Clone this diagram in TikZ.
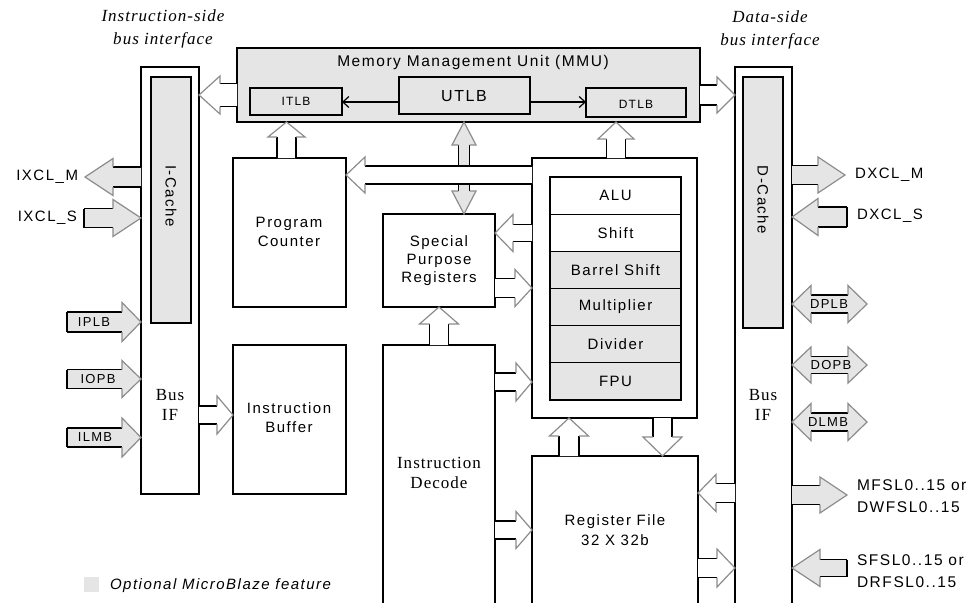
\documentclass[tikz,border=0pt]{standalone}
\usepackage{fontspec}
\newfontfamily\lsans{Liberation Sans}[LetterSpace=10]
\newfontfamily\lserif{Liberation Serif}[LetterSpace=6]
\usetikzlibrary{calc,arrows.meta}
\newdimen\BAdx \newdimen\BAdy
\newcommand\BAget[3]{%
  \pgfextractx{\BAdx}{\pgfpointanchor{#1}{center}}%
  \pgfextracty{\BAdy}{\pgfpointanchor{#1}{center}}%
  \pgfmathsetmacro#2{\the\BAdx}\pgfmathsetmacro#3{\the\BAdy}}
% horizontal block arrow: [fill]{tail}{tip}{shaft half}{head half}{head length}{closed tail 1/0}
\newcommand\harr[7][white]{%
  \coordinate (BAt) at #2;\coordinate (BAh) at #3;%
  \BAget{BAt}{\BAtx}{\BAty}\BAget{BAh}{\BAhx}{\BAhy}%
  \pgfmathsetmacro\BAs{ifthenelse(\BAhx>\BAtx,1,-1)}%
  \pgfmathsetmacro\BAb{\BAhx-(\BAs)*(#6)}%
  \pgfmathsetmacro\BAu{\BAty+#4}\pgfmathsetmacro\BAd{\BAty-#4}%
  \pgfmathsetmacro\BAU{\BAty+#5}\pgfmathsetmacro\BAD{\BAty-#5}%
  \fill[#1] (\BAtx pt,\BAu pt) -- (\BAb pt,\BAu pt) -- (\BAb pt,\BAU pt) -- (\BAhx pt,\BAty pt) -- (\BAb pt,\BAD pt) -- (\BAb pt,\BAd pt) -- (\BAtx pt,\BAd pt) -- cycle;%
  \draw[bashaft] (\BAtx pt,\BAu pt) -- (\BAb pt,\BAu pt) (\BAtx pt,\BAd pt) -- (\BAb pt,\BAd pt);%
  \draw[bahead] (\BAb pt,\BAu pt) -- (\BAb pt,\BAU pt) -- (\BAhx pt,\BAty pt) -- (\BAb pt,\BAD pt) -- (\BAb pt,\BAd pt);%
  \ifnum#7=1 \draw[bashaft] (\BAtx pt,\BAu pt) -- (\BAtx pt,\BAd pt);\fi}
% vertical block arrow
\newcommand\varr[7][white]{%
  \coordinate (BAt) at #2;\coordinate (BAh) at #3;%
  \BAget{BAt}{\BAtx}{\BAty}\BAget{BAh}{\BAhx}{\BAhy}%
  \pgfmathsetmacro\BAs{ifthenelse(\BAhy>\BAty,1,-1)}%
  \pgfmathsetmacro\BAb{\BAhy-(\BAs)*(#6)}%
  \pgfmathsetmacro\BAu{\BAtx+#4}\pgfmathsetmacro\BAd{\BAtx-#4}%
  \pgfmathsetmacro\BAU{\BAtx+#5}\pgfmathsetmacro\BAD{\BAtx-#5}%
  \fill[#1] (\BAu pt,\BAty pt) -- (\BAu pt,\BAb pt) -- (\BAU pt,\BAb pt) -- (\BAtx pt,\BAhy pt) -- (\BAD pt,\BAb pt) -- (\BAd pt,\BAb pt) -- (\BAd pt,\BAty pt) -- cycle;%
  \draw[bashaft] (\BAu pt,\BAty pt) -- (\BAu pt,\BAb pt) (\BAd pt,\BAty pt) -- (\BAd pt,\BAb pt);%
  \draw[bahead] (\BAu pt,\BAb pt) -- (\BAU pt,\BAb pt) -- (\BAtx pt,\BAhy pt) -- (\BAD pt,\BAb pt) -- (\BAd pt,\BAb pt);%
  \ifnum#7=1 \draw[bashaft] (\BAu pt,\BAty pt) -- (\BAd pt,\BAty pt);\fi}
% double horizontal: [fill]{left tip}{right tip}{hw}{hh}{hl}
\newcommand\hdarr[6][white]{%
  \coordinate (BAt) at #2;\coordinate (BAh) at #3;%
  \BAget{BAt}{\BAtx}{\BAty}\BAget{BAh}{\BAhx}{\BAhy}%
  \pgfmathsetmacro\BAa{\BAtx+#6}\pgfmathsetmacro\BAb{\BAhx-#6}%
  \pgfmathsetmacro\BAu{\BAty+#4}\pgfmathsetmacro\BAd{\BAty-#4}%
  \pgfmathsetmacro\BAU{\BAty+#5}\pgfmathsetmacro\BAD{\BAty-#5}%
  \fill[#1] (\BAtx pt,\BAty pt) -- (\BAa pt,\BAU pt) -- (\BAa pt,\BAu pt) -- (\BAb pt,\BAu pt) -- (\BAb pt,\BAU pt) -- (\BAhx pt,\BAty pt) -- (\BAb pt,\BAD pt) -- (\BAb pt,\BAd pt) -- (\BAa pt,\BAd pt) -- (\BAa pt,\BAD pt) -- cycle;%
  \draw[bashaft] (\BAa pt,\BAu pt) -- (\BAb pt,\BAu pt) (\BAa pt,\BAd pt) -- (\BAb pt,\BAd pt);%
  \draw[bahead] (\BAa pt,\BAu pt) -- (\BAa pt,\BAU pt) -- (\BAtx pt,\BAty pt) -- (\BAa pt,\BAD pt) -- (\BAa pt,\BAd pt);%
  \draw[bahead] (\BAb pt,\BAu pt) -- (\BAb pt,\BAU pt) -- (\BAhx pt,\BAty pt) -- (\BAb pt,\BAD pt) -- (\BAb pt,\BAd pt);}
% double vertical: [fill]{top tip}{bottom tip}{hw}{hh}{hl}
\newcommand\vdarr[6][white]{%
  \coordinate (BAt) at #2;\coordinate (BAh) at #3;%
  \BAget{BAt}{\BAtx}{\BAty}\BAget{BAh}{\BAhx}{\BAhy}%
  \pgfmathsetmacro\BAa{\BAty-#6}\pgfmathsetmacro\BAb{\BAhy+#6}%
  \pgfmathsetmacro\BAu{\BAtx+#4}\pgfmathsetmacro\BAd{\BAtx-#4}%
  \pgfmathsetmacro\BAU{\BAtx+#5}\pgfmathsetmacro\BAD{\BAtx-#5}%
  \fill[#1] (\BAtx pt,\BAty pt) -- (\BAU pt,\BAa pt) -- (\BAu pt,\BAa pt) -- (\BAu pt,\BAb pt) -- (\BAU pt,\BAb pt) -- (\BAtx pt,\BAhy pt) -- (\BAD pt,\BAb pt) -- (\BAd pt,\BAb pt) -- (\BAd pt,\BAa pt) -- (\BAD pt,\BAa pt) -- cycle;%
  \draw[bashaft] (\BAu pt,\BAa pt) -- (\BAu pt,\BAb pt) (\BAd pt,\BAa pt) -- (\BAd pt,\BAb pt);%
  \draw[bahead] (\BAu pt,\BAa pt) -- (\BAU pt,\BAa pt) -- (\BAtx pt,\BAty pt) -- (\BAD pt,\BAa pt) -- (\BAd pt,\BAa pt);%
  \draw[bahead] (\BAu pt,\BAb pt) -- (\BAU pt,\BAb pt) -- (\BAtx pt,\BAhy pt) -- (\BAD pt,\BAb pt) -- (\BAd pt,\BAb pt);}

\begin{document}
\begin{tikzpicture}[x=1pt,y=-1pt,
  every node/.style={inner sep=0pt, outer sep=0pt},
  box/.style={draw=black, line width=1.3pt, anchor=north west},
  openbox/.style={draw=none, anchor=north west},
  opt/.style={fill=black!10},
  bashaft/.style={draw=black, line width=1.3pt},
  bahead/.style={draw=black!45, line width=1.2pt},
  sf/.style={font=\lsans\fontsize{15}{19}\selectfont, align=center},
  sm/.style={font=\lsans\fontsize{13}{15}\selectfont},
  sr/.style={font=\lserif\fontsize{17}{20}\selectfont, align=center},
  ttl/.style={font=\lserif\itshape\fontsize{17}{23}\selectfont, align=center}]
\useasboundingbox (0,0) rectangle (979,603);

% titles
\node[ttl] (ititle) at (163,29) {Instruction-side\\bus interface};
\node[ttl] (dtitle) at (770,30) {Data-side\\bus interface};

% MMU
\node[box, opt, minimum width=463, minimum height=74] (mmu) at (237,48) {};
\node[sf, font=\lsans\fontsize{15.5}{19}\selectfont] (mmut) at (473,62) {Memory Management Unit (MMU)};
\node[box, opt, minimum width=92, minimum height=27] (itlb) at (250,88) {};
\node[sm, font=\lsans\fontsize{12}{14}\selectfont] at (itlb.center) {ITLB};
\node[box, opt, minimum width=131, minimum height=37] (utlb) at (399,77) {};
\node[sf, font=\lsans\fontsize{16}{19}\selectfont] at (464,96) {UTLB};
\node[box, opt, minimum width=100, minimum height=29] (dtlb) at (586,88) {};
\node[sm, font=\lsans\fontsize{12}{14}\selectfont] at (636,104) {DTLB};
\draw[line width=1.2pt, -{Straight Barb[length=6pt,width=11pt]}] (utlb.west |- 0,102) -- (itlb.east |- 0,102);
\draw[line width=1.2pt, -{Straight Barb[length=6pt,width=11pt]}] (utlb.east |- 0,102) -- (dtlb.west |- 0,102);

% bus interfaces
\node[box, minimum width=58, minimum height=427] (busL) at (141,67) {};
\node[box, opt, minimum width=40, minimum height=246] (icache) at (151,77) {};
\node[sf, rotate=-90] at (171,196) {I-Cache};
\node[sr] at (170,405) {Bus\\IF};

\node[openbox, minimum width=57, minimum height=536] (busR) at (735,67) {};
\draw[line width=1.3pt] (busR.south west) -- (busR.north west) -- (busR.north east) -- (busR.south east);
\node[box, opt, minimum width=40, minimum height=251] (dcache) at (743,77) {};
\node[sf, rotate=-90] at (763,200) {D-Cache};
\node[sr] at (763,405) {Bus\\IF};

% core blocks
\node[box, minimum width=113, minimum height=149] (pc) at (233,158) {};
\node[sf] at (289,232) {Program\\Counter};
\node[box, minimum width=113, minimum height=149] (ib) at (233,345) {};
\node[sf] at (289,418) {Instruction\\Buffer};
\node[box, minimum width=112, minimum height=93] (spr) at (383,214) {};
\node[sf, font=\lsans\fontsize{15}{18}\selectfont] at (439,261) {Special\\Purpose\\Registers};
\node[openbox, minimum width=112, minimum height=258] (id) at (383,345) {};
\draw[line width=1.3pt] (id.south west) -- (id.north west) -- (id.north east) -- (id.south east);
\node[sr] at (439,473) {Instruction\\Decode};

\node[box, minimum width=165, minimum height=260] (exu) at (532,158) {};
\node[box, minimum width=131, minimum height=37.17] (r1) at (550,177) {};
\node[box, minimum width=131, minimum height=37.17] (r2) at (550,214.17) {};
\node[box, opt, minimum width=131, minimum height=37.17] (r3) at (550,251.33) {};
\node[box, opt, minimum width=131, minimum height=37.17] (r4) at (550,288.5) {};
\node[box, opt, minimum width=131, minimum height=37.17] (r5) at (550,325.67) {};
\node[box, opt, minimum width=131, minimum height=37.17] (r6) at (550,362.83) {};
\node[sf] at (r1.center) {ALU};
\node[sf] at (r2.center) {Shift};
\node[sf] at (r3.center) {Barrel Shift};
\node[sf] at (r4.center) {Multiplier};
\node[sf] at (r5.center) {Divider};
\node[sf] at (r6.center) {FPU};

\node[openbox, minimum width=166, minimum height=147] (rf) at (532,456) {};
\draw[line width=1.3pt] (rf.south west) -- (rf.north west) -- (rf.north east) -- (rf.south east);
\node[sf, font=\lsans\fontsize{15}{20}\selectfont] at (615,530) {Register File\\32 X 32b};

% internal block arrows
\harr{(mmu.west |- 0,95)}{(busL.east |- 0,95)}{11.5}{19}{21}{0}
\harr{(mmu.east |- 0,95)}{(busR.west |- 0,95)}{10}{18}{18}{0}
\harr{(busL.east |- 0,415)}{(ib.west |- 0,415)}{9}{19}{16}{0}
\varr{(pc.north -| 286.5,0)}{(mmu.south -| 286.5,0)}{9.5}{18.5}{15}{0}
\varr{(exu.north -| 616,0)}{(mmu.south -| 616,0)}{9.5}{18}{17}{0}
\vdarr[black!10]{(mmu.south -| 464,0)}{(spr.north -| 464,0)}{5.5}{12}{23}
\harr{(exu.west |- 0,175)}{(pc.east |- 0,175)}{9}{18}{19}{0}
\harr{(exu.west |- 0,233)}{(spr.east |- 0,233)}{8.5}{18.5}{18}{0}
\harr{(spr.east |- 0,288)}{(exu.west |- 0,288)}{9.5}{18.5}{17}{0}
\varr{(id.north -| 439,0)}{(spr.south -| 439,0)}{9.5}{19.5}{17}{0}
\harr{(id.east |- 0,382)}{(exu.west |- 0,382)}{9}{19}{16}{0}
\harr{(id.east |- 0,530)}{(rf.west |- 0,530)}{9}{18.5}{16}{0}
\varr{(rf.north -| 569,0)}{(exu.south -| 569,0)}{10}{19.5}{18}{0}
\varr{(exu.south -| 662.5,0)}{(rf.north -| 662.5,0)}{9.5}{19.5}{19}{0}
\harr{(busR.west |- 0,493)}{(rf.east |- 0,493)}{9.5}{18.5}{18}{0}
\harr{(rf.east |- 0,568)}{(busR.west |- 0,568)}{9.5}{19}{18}{0}

% external interfaces, instruction side
\coordinate (ixm) at (85,177);
\coordinate (ixs) at (84,218);
\coordinate (iplb) at (67,322);
\coordinate (iopb) at (67,379);
\coordinate (ilmb) at (67,437.5);
\harr[black!10]{(busL.west |- ixm)}{(ixm)}{10}{18.5}{28}{0}
\harr[black!10]{(ixs)}{(busL.west |- ixs)}{9.5}{18.5}{28}{1}
\harr[black!10]{(iplb)}{(busL.west |- iplb)}{10}{19.5}{19}{1}
\harr[black!10]{(iopb)}{(busL.west |- iopb)}{9.5}{18.5}{19}{1}
\harr[black!10]{(ilmb)}{(busL.west |- ilmb)}{9.5}{19.5}{19}{1}
\node[sf, anchor=east] at (78,177) {IXCL\_M};
\node[sf, anchor=east] at (77,218) {IXCL\_S};
\node[sm] at (94,322) {IPLB};
\node[sm] at (98,379) {IOPB};
\node[sm] at (95,437.5) {ILMB};

% external interfaces, data side
\coordinate (dxm) at (845,175);
\coordinate (dxs) at (847,217);
\coordinate (dplb) at (867,304);
\coordinate (dopb) at (867,365);
\coordinate (dlmb) at (867,422);
\coordinate (mfsl) at (847,495);
\coordinate (sfsl) at (847,568);
\harr[black!10]{(busR.east |- dxm)}{(dxm)}{9.5}{18}{27}{0}
\harr[black!10]{(dxs)}{(busR.east |- dxs)}{10}{18.5}{26}{1}
\hdarr[black!10]{(busR.east |- dplb)}{(dplb)}{9}{18.5}{19}
\hdarr[black!10]{(busR.east |- dopb)}{(dopb)}{8.5}{18}{19}
\hdarr[black!10]{(busR.east |- dlmb)}{(dlmb)}{9}{18.5}{19}
\harr[black!10]{(busR.east |- mfsl)}{(mfsl)}{9.5}{18}{27}{0}
\harr[black!10]{(sfsl)}{(busR.east |- sfsl)}{8.5}{18.5}{28}{1}
\node[sf, anchor=west] at (855,175) {DXCL\_M};
\node[sf, anchor=west] at (857,216) {DXCL\_S};
\node[sm] at (829,304) {DPLB};
\node[sm] at (831,365) {DOPB};
\node[sm] at (828,422) {DLMB};
\node[sf, anchor=west, align=left, font=\lsans\fontsize{15.5}{22}\selectfont] at (857,496) {MFSL0..15 or\\DWFSL0..15};
\node[sf, anchor=west, align=left, font=\lsans\fontsize{15.5}{22}\selectfont] at (857,571) {SFSL0..15 or\\DRFSL0..15};

% legend
\node[fill=black!10, minimum size=15, anchor=north west] (legsq) at (84,577) {};
\node[font=\lsans\itshape\fontsize{15}{18}\selectfont, anchor=west] (legtxt) at (110,586) {Optional MicroBlaze feature};
\end{tikzpicture}
\end{document}
